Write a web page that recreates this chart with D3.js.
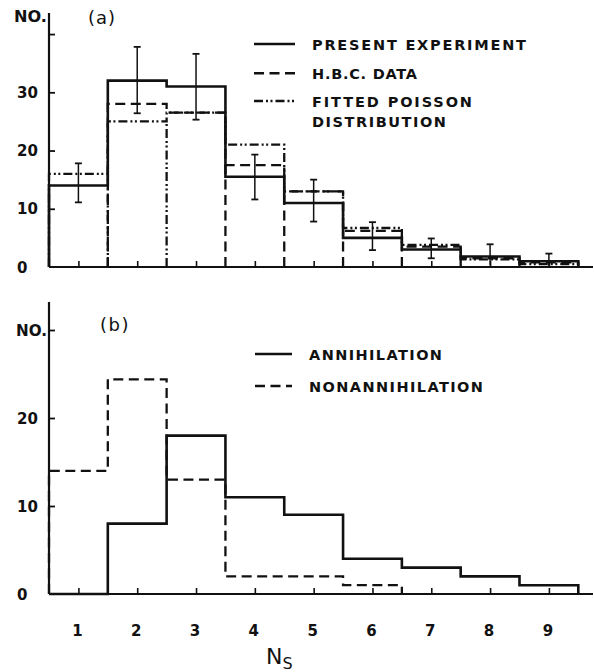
<!DOCTYPE html>
<html>
<head>
<meta charset="utf-8">
<script src="https://cdn.jsdelivr.net/npm/d3@7/dist/d3.min.js"></script>
<style>
  html, body { margin: 0; padding: 0; background: #fff; }
  svg { display: block; }
  text { font-family: "DejaVu Sans", "Liberation Sans", sans-serif; fill: #111; }
</style>
</head>
<body>
<script>
// Multiplicity distributions of shower prongs N_S
const bins = [1, 2, 3, 4, 5, 6, 7, 8, 9];

// Panel (a)
const presentExp     = [14, 32, 31, 15.5, 11, 5, 3, 1.8, 1];
const presentErrLow  = [11.1, 26.4, 25.3, 11.6, 7.8, 2.9, 1.5, 0.3, 0];
const presentErrHigh = [17.8, 37.8, 36.6, 19.3, 15.0, 7.7, 4.9, 3.9, 2.3];
const hbcData        = [null, 28, 26.5, 17.5, 13, 6.2, 3.5, 1.5, 0.8];
const poissonFit     = [16, 25, 26.5, 21, 13, 6.7, 3.8, 1.3, 0.5];
// inner bin edges where an outline is carried down to the baseline
const hbcDrops     = [3.5, 4.5, 5.5, 6.5, 7.5, 8.5];
const poissonDrops = [1.5, 2.5];
const yTicksA = [0, 10, 20, 30, 40];
const yLabelsA = ["0", "10", "20", "30"];

// Panel (b)
const annihilation    = [0, 8, 18, 11, 9, 4, 3, 2, 1];
const nonAnnihilation = [14, 24.4, 13, 2, 2, 1, null, null, null];
const yTicksB = [0, 10, 20, 30];
const yLabelsB = ["0", "10", "20"];

const W = 594, H = 672;
const svg = d3.select("body").append("svg").attr("width", W).attr("height", H);

const x = d3.scaleLinear().domain([0.5, 9.5]).range([49, 578.3]);
const xEnd = 593;

const yA = d3.scaleLinear().domain([0, 30]).range([267, 92.3]);
const yB = d3.scaleLinear().domain([0, 30]).range([594, 330]);

const DASH = "10,5.5";
const DASHDOT = "9,3,2,2.5,2,3";

function stepPath(vals, y) {
  let d = "";
  let open = false;
  vals.forEach((v, i) => {
    const b = bins[i];
    if (v == null) {
      if (open) { d += `V${y(0)}`; open = false; }
      return;
    }
    if (!open) { d += `M${x(b - 0.5)},${y(0)}`; open = true; }
    d += `V${y(v)}H${x(b + 0.5)}`;
  });
  if (open) d += `V${y(0)}`;
  return d;
}

function drawFrame(g, y, ticks, top) {
  // vertical axis
  g.append("line").attr("x1", x(0.5)).attr("x2", x(0.5))
    .attr("y1", top).attr("y2", y(0))
    .attr("stroke", "#111").attr("stroke-width", 2.2);
  // baseline
  g.append("line").attr("x1", x(0.5)).attr("x2", xEnd)
    .attr("y1", y(0)).attr("y2", y(0))
    .attr("stroke", "#111").attr("stroke-width", 2.2);
  // inward y ticks
  const ya = g.append("g").attr("transform", `translate(${x(0.5)},0)`)
    .call(d3.axisRight(y).tickValues(ticks.filter(t => t > 0)).tickSize(6).tickFormat(""));
  ya.select(".domain").remove();
  ya.selectAll("line").attr("stroke", "#111").attr("stroke-width", 1.8);
  // upward x ticks at bin centres
  const xa = g.append("g").attr("transform", `translate(0,${y(0)})`)
    .call(d3.axisTop(x).tickValues(bins).tickSize(6).tickFormat(""));
  xa.select(".domain").remove();
  xa.selectAll("line").attr("stroke", "#111").attr("stroke-width", 1.6);
}

function yLabels(g, y, labels) {
  g.selectAll(null).data(labels).enter().append("text")
    .attr("x", 17).attr("y", d => y(+d) + 5.5)
    .attr("font-size", 15).attr("font-weight", "bold")
    .text(d => d);
}

// ---------- Panel (a) ----------
const ga = svg.append("g");
drawFrame(ga, yA, yTicksA, 13);
yLabels(ga, yA, yLabelsA);
ga.append("text").attr("x", 14).attr("y", 21.5).attr("font-size", 15.5)
  .attr("font-weight", "bold").attr("textLength", 33).attr("lengthAdjust", "spacingAndGlyphs")
  .text("NO.");
ga.append("text").attr("x", 88).attr("y", 24).attr("font-size", 18)
  .attr("letter-spacing", 1).text("(a)");

// fitted Poisson
ga.append("path").attr("d", stepPath(poissonFit, yA)).attr("fill", "none")
  .attr("stroke", "#111").attr("stroke-width", 2.3).attr("stroke-dasharray", DASHDOT);
ga.selectAll(null).data(poissonDrops).enter().append("line")
  .attr("x1", d => x(d)).attr("x2", d => x(d)).attr("y1", yA(0))
  .attr("y2", d => yA(Math.min(poissonFit[d - 1.5], poissonFit[d - 0.5])))
  .attr("stroke", "#111").attr("stroke-width", 2.3).attr("stroke-dasharray", DASHDOT);

// H.B.C. data
ga.append("path").attr("d", stepPath(hbcData, yA)).attr("fill", "none")
  .attr("stroke", "#111").attr("stroke-width", 2.3).attr("stroke-dasharray", DASH);
ga.selectAll(null).data(hbcDrops).enter().append("line")
  .attr("x1", d => x(d)).attr("x2", d => x(d)).attr("y1", yA(0))
  .attr("y2", d => yA(Math.min(hbcData[d - 1.5], hbcData[d - 0.5])))
  .attr("stroke", "#111").attr("stroke-width", 2.3).attr("stroke-dasharray", DASH);

// present experiment
ga.append("path").attr("d", stepPath(presentExp, yA)).attr("fill", "none")
  .attr("stroke", "#111").attr("stroke-width", 2.6);

// error bars
const eb = ga.selectAll(null).data(bins).enter().append("g");
eb.append("line").attr("x1", d => x(d)).attr("x2", d => x(d))
  .attr("y1", (d, i) => yA(presentErrLow[i])).attr("y2", (d, i) => yA(presentErrHigh[i]))
  .attr("stroke", "#111").attr("stroke-width", 1.5);
eb.append("line").attr("x1", d => x(d) - 3.5).attr("x2", d => x(d) + 3.5)
  .attr("y1", (d, i) => yA(presentErrHigh[i])).attr("y2", (d, i) => yA(presentErrHigh[i]))
  .attr("stroke", "#111").attr("stroke-width", 1.8);
eb.filter((d, i) => presentErrLow[i] > 0.5).append("line")
  .attr("x1", d => x(d) - 3.5).attr("x2", d => x(d) + 3.5)
  .attr("y1", (d, i) => yA(presentErrLow[i])).attr("y2", (d, i) => yA(presentErrLow[i]))
  .attr("stroke", "#111").attr("stroke-width", 1.8);

// legend (a)
const legA = [
  { dash: null, lines: ["PRESENT EXPERIMENT"], y: 44, len: [214] },
  { dash: DASH, lines: ["H.B.C. DATA"], y: 73.3, len: [105] },
  { dash: DASHDOT, lines: ["FITTED POISSON", "DISTRIBUTION"], y: 101, len: [160, 134] }
];
legA.forEach(l => {
  ga.append("line").attr("x1", 254).attr("x2", 295).attr("y1", l.y).attr("y2", l.y)
    .attr("stroke", "#111").attr("stroke-width", 2.4)
    .attr("stroke-dasharray", l.dash);
  l.lines.forEach((t, k) => {
    ga.append("text").attr("x", 312).attr("y", l.y + 5.5 + k * 20)
      .attr("font-size", 14.5).attr("font-weight", "bold")
      .attr("textLength", l.len[k]).attr("lengthAdjust", "spacing")
      .text(t);
  });
});

// ---------- Panel (b) ----------
const gb = svg.append("g");
drawFrame(gb, yB, yTicksB, 302);
yLabels(gb, yB, yLabelsB);
gb.append("text").attr("x", 16).attr("y", yB(30) + 6).attr("font-size", 15.5)
  .attr("font-weight", "bold").attr("textLength", 31).attr("lengthAdjust", "spacingAndGlyphs")
  .text("NO.");
gb.append("text").attr("x", 100).attr("y", 331).attr("font-size", 18)
  .attr("letter-spacing", 1.5).text("(b)");

gb.append("path").attr("d", stepPath(nonAnnihilation, yB)).attr("fill", "none")
  .attr("stroke", "#111").attr("stroke-width", 2.3).attr("stroke-dasharray", DASH);
gb.append("path").attr("d", stepPath(annihilation, yB)).attr("fill", "none")
  .attr("stroke", "#111").attr("stroke-width", 2.6);

const legB = [
  { dash: null, text: "ANNIHILATION", y: 354, len: 133 },
  { dash: DASH, text: "NONANNIHILATION", y: 386, len: 174 }
];
legB.forEach(l => {
  gb.append("line").attr("x1", 255).attr("x2", 292).attr("y1", l.y).attr("y2", l.y)
    .attr("stroke", "#111").attr("stroke-width", 2.4)
    .attr("stroke-dasharray", l.dash);
  gb.append("text").attr("x", 309).attr("y", l.y + 5.5)
    .attr("font-size", 14.5).attr("font-weight", "bold")
    .attr("textLength", l.len).attr("lengthAdjust", "spacing")
    .text(l.text);
});

// x tick labels
gb.selectAll(null).data(bins).enter().append("text")
  .attr("x", d => x(d) - 1).attr("y", 635.5)
  .attr("text-anchor", "middle").attr("font-size", 15).attr("font-weight", "bold")
  .text(d => d);

// axis title N_S
const title = gb.append("text").attr("x", 266).attr("y", 663.5).attr("font-size", 22);
title.append("tspan").text("N");
title.append("tspan").attr("font-size", 16).attr("dy", 5).text("S");
</script>
</body>
</html>
